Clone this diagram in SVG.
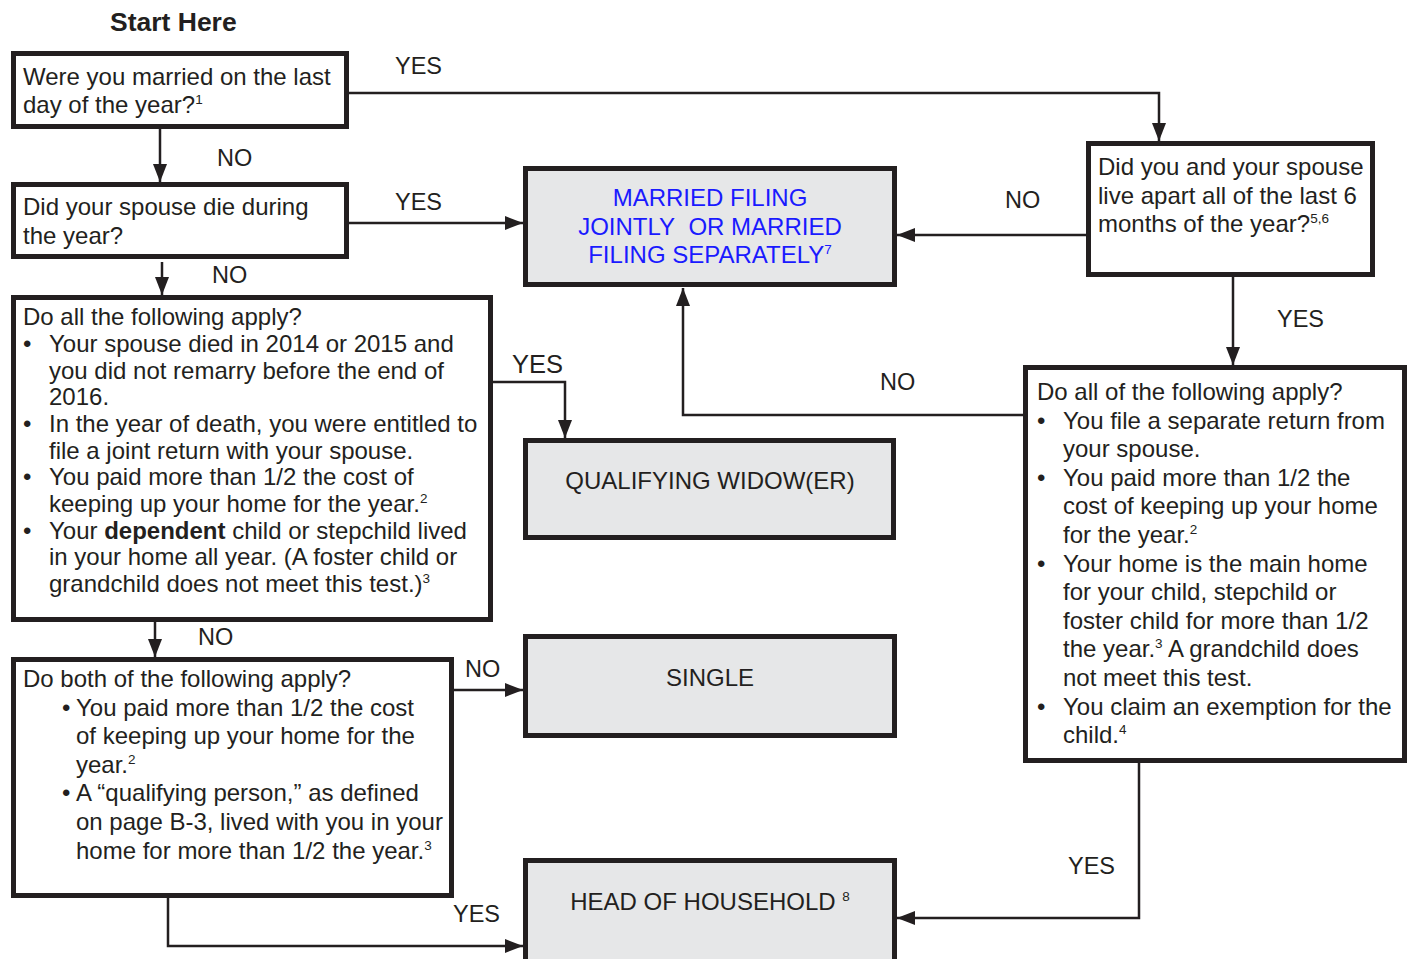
<svg xmlns="http://www.w3.org/2000/svg" width="1412" height="959" viewBox="0 0 1412 959">
  <style>
    text { font-family: "Liberation Sans", Arial, Helvetica, sans-serif; fill: #231f20; font-size: 24px; }
    .title { font-weight: bold; font-size: 26.5px; }
    .q { fill: #ffffff; stroke: #231f20; stroke-width: 5; }
    .r { fill: #e6e7e8; stroke: #231f20; stroke-width: 5; }
    .blue { fill: #1a1aff; }
    .mid { text-anchor: middle; }
    .sup { font-size: 13.5px; }
    .lbl { font-size: 23.5px; }
    .conn { fill: none; stroke: #231f20; stroke-width: 2.5; marker-end: url(#arrow); }
  </style>
  <defs>
    <marker id="arrow" markerUnits="userSpaceOnUse" markerWidth="20" markerHeight="16" refX="18" refY="7" orient="auto">
      <path d="M0,0 L18,7 L0,14 Z" fill="#231f20"/>
    </marker>
  </defs>

  <rect width="1412" height="959" fill="#ffffff"/>

  <text class="title" x="110" y="31">Start Here</text>

  <!-- connectors -->
  <g id="connectors">
    <path class="conn" d="M160,129 V182"/>
    <path class="conn" d="M349,93 H1159 V141"/>
    <path class="conn" d="M349,223 H523"/>
    <path class="conn" d="M162,262 V295"/>
    <path class="conn" d="M493,382 H565 V438"/>
    <path class="conn" d="M155,622 V657"/>
    <path class="conn" d="M454,690 H523"/>
    <path class="conn" d="M168,898 V946 H523"/>
    <path class="conn" d="M1086,235 H897"/>
    <path class="conn" d="M1233,277 V365"/>
    <path class="conn" d="M1024,415 H683 V288"/>
    <path class="conn" d="M1139,763 V918 H897"/>
  </g>

  <!-- connector labels -->
  <g id="labels">
    <text class="lbl" x="395" y="74">YES</text>
    <text class="lbl" x="217" y="166">NO</text>
    <text class="lbl" x="395" y="210">YES</text>
    <text class="lbl" x="212" y="283">NO</text>
    <text class="lbl" x="512" y="373" style="font-size:25.5px">YES</text>
    <text class="lbl" x="880" y="390">NO</text>
    <text class="lbl" x="1005" y="208">NO</text>
    <text class="lbl" x="1277" y="327">YES</text>
    <text class="lbl" x="198" y="645">NO</text>
    <text class="lbl" x="465" y="677">NO</text>
    <text class="lbl" x="453" y="922">YES</text>
    <text class="lbl" x="1068" y="874">YES</text>
  </g>

  <!-- question: married on last day -->
  <g id="q-married">
    <rect class="q" x="13.5" y="53.5" width="333" height="73"/>
    <text x="23" y="85">Were you married on the last</text>
    <text x="23" y="113">day of the year?<tspan class="sup" dy="-9">1</tspan></text>
  </g>

  <!-- question: spouse died -->
  <g id="q-spouse-died">
    <rect class="q" x="13.5" y="184.5" width="333" height="72"/>
    <text x="23" y="215">Did your spouse die during</text>
    <text x="23" y="244">the year?</text>
  </g>

  <!-- question: widow(er) tests -->
  <g id="q-widow">
    <rect class="q" x="13.5" y="297.5" width="477" height="322"/>
    <text x="23" y="325">Do all the following apply?</text>
    <text x="23" y="352">•</text>
    <text x="49" y="352">Your spouse died in 2014 or 2015 and</text>
    <text x="49" y="378.5">you did not remarry before the end of</text>
    <text x="49" y="405">2016.</text>
    <text x="23" y="432">•</text>
    <text x="49" y="432">In the year of death, you were entitled to</text>
    <text x="49" y="458.5">file a joint return with your spouse.</text>
    <text x="23" y="485">•</text>
    <text x="49" y="485">You paid more than 1/2 the cost of</text>
    <text x="49" y="512">keeping up your home for the year.<tspan class="sup" dy="-9">2</tspan></text>
    <text x="23" y="538.5">•</text>
    <text x="49" y="538.5">Your <tspan font-weight="bold">dependent</tspan> child or stepchild lived</text>
    <text x="49" y="565">in your home all year. (A foster child or</text>
    <text x="49" y="592">grandchild does not meet this test.)<tspan class="sup" dy="-9">3</tspan></text>
  </g>

  <!-- question: head of household (unmarried) -->
  <g id="q-both">
    <rect class="q" x="13.5" y="659.5" width="438" height="236"/>
    <text x="23" y="687">Do both of the following apply?</text>
    <text x="62" y="715.6">•</text>
    <text x="76" y="715.6">You paid more than 1/2 the cost</text>
    <text x="76" y="744.2">of keeping up your home for the</text>
    <text x="76" y="772.8">year.<tspan class="sup" dy="-9">2</tspan></text>
    <text x="62" y="801.4">•</text>
    <text x="76" y="801.4">A “qualifying person,” as defined</text>
    <text x="76" y="830">on page B-3, lived with you in your</text>
    <text x="76" y="858.6">home for more than 1/2 the year.<tspan class="sup" dy="-9">3</tspan></text>
  </g>

  <!-- question: lived apart -->
  <g id="q-apart">
    <rect class="q" x="1088.5" y="143.5" width="284" height="131"/>
    <text x="1098" y="175">Did you and your spouse</text>
    <text x="1098" y="204">live apart all of the last 6</text>
    <text x="1098" y="232">months of the year?<tspan class="sup" dy="-9">5,6</tspan></text>
  </g>

  <!-- question: married head of household tests -->
  <g id="q-all">
    <rect class="q" x="1025.5" y="367.5" width="379" height="393"/>
    <text x="1037" y="400">Do all of the following apply?</text>
    <text x="1037" y="428.6">•</text>
    <text x="1063" y="428.6">You file a separate return from</text>
    <text x="1063" y="457.2">your spouse.</text>
    <text x="1037" y="485.8">•</text>
    <text x="1063" y="485.8">You paid more than 1/2 the</text>
    <text x="1063" y="514.4">cost of keeping up your home</text>
    <text x="1063" y="543">for the year.<tspan class="sup" dy="-9">2</tspan></text>
    <text x="1037" y="571.6">•</text>
    <text x="1063" y="571.6">Your home is the main home</text>
    <text x="1063" y="600.2">for your child, stepchild or</text>
    <text x="1063" y="628.8">foster child for more than 1/2</text>
    <text x="1063" y="657.4">the year.<tspan class="sup" dy="-9">3</tspan><tspan dy="9"> A grandchild does</tspan></text>
    <text x="1063" y="686">not meet this test.</text>
    <text x="1037" y="714.6">•</text>
    <text x="1063" y="714.6">You claim an exemption for the</text>
    <text x="1063" y="743.2">child.<tspan class="sup" dy="-9">4</tspan></text>
  </g>

  <!-- result: married filing jointly / separately -->
  <g id="r-mfj">
    <rect class="r" x="525.5" y="168.5" width="369" height="116"/>
    <text class="blue mid" x="710" y="206">MARRIED FILING</text>
    <text class="blue mid" x="710" y="235">JOINTLY&#160; OR MARRIED</text>
    <text class="blue mid" x="710" y="263">FILING SEPARATELY<tspan class="sup blue" dy="-9">7</tspan></text>
  </g>

  <!-- result: qualifying widow(er) -->
  <g id="r-qw">
    <rect class="r" x="525.5" y="440.5" width="368" height="97"/>
    <text class="mid" x="710" y="489">QUALIFYING WIDOW(ER)</text>
  </g>

  <!-- result: single -->
  <g id="r-single">
    <rect class="r" x="525.5" y="636.5" width="369" height="99"/>
    <text class="mid" x="710" y="686">SINGLE</text>
  </g>

  <!-- result: head of household -->
  <g id="r-hoh">
    <rect class="r" x="525.5" y="860.5" width="369" height="130"/>
    <text class="mid" x="710" y="910">HEAD OF HOUSEHOLD <tspan class="sup" dy="-9">8</tspan></text>
  </g>
</svg>
